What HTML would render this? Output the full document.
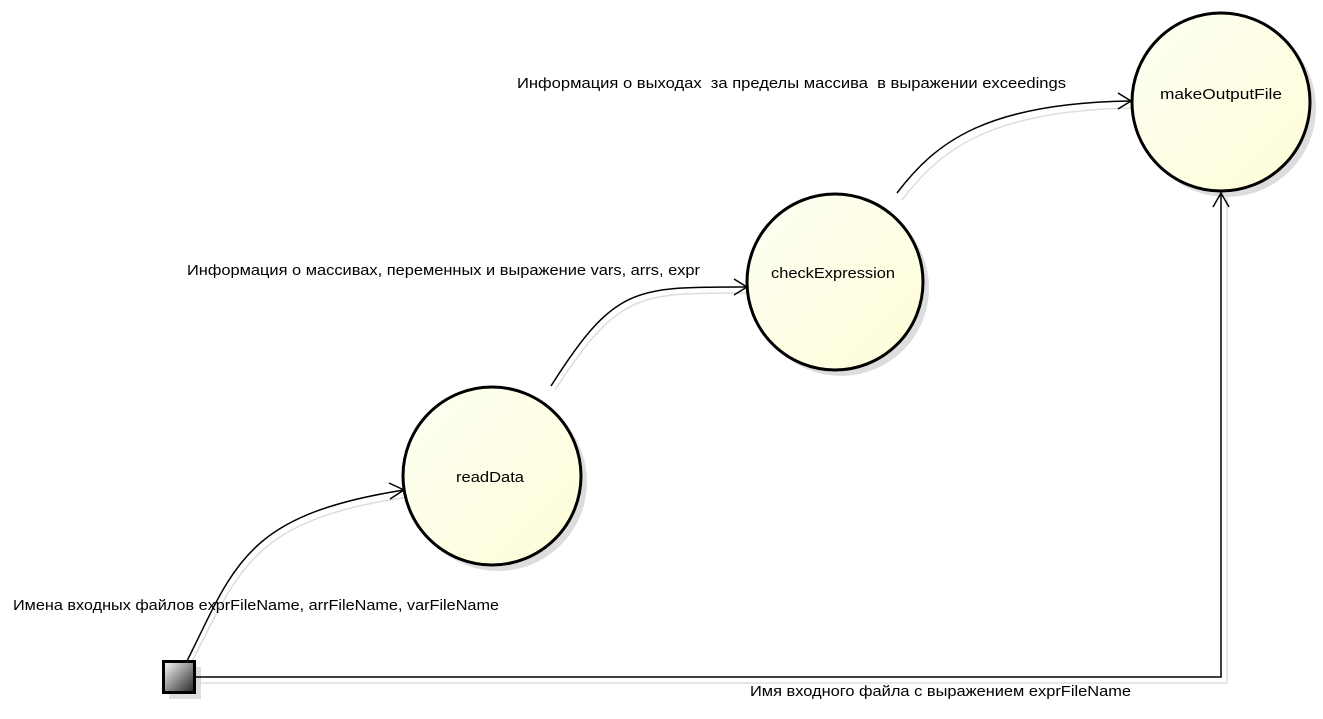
<!DOCTYPE html>
<html><head><meta charset="utf-8"><style>
body{margin:0;background:#fff;}
svg text{font-family:"Liberation Sans",sans-serif;font-size:15px;fill:#000;}
</style></head><body>
<svg width="1323" height="714" xmlns="http://www.w3.org/2000/svg">
<defs>
<linearGradient id="cf" x1="0" y1="0" x2="1" y2="1">
<stop offset="0" stop-color="#fffff4"/><stop offset="1" stop-color="#fdfdd8"/></linearGradient>
<linearGradient id="sq" x1="0" y1="0" x2="1" y2="1">
<stop offset="0" stop-color="#fff"/><stop offset="1" stop-color="#222"/></linearGradient>
</defs>
<circle cx="1227" cy="108" r="89" fill="#ddd"/>
<circle cx="841" cy="288" r="88" fill="#ddd"/>
<circle cx="498" cy="482" r="89" fill="#ddd"/>
<rect x="169" y="667" width="32" height="32" fill="#ddd"/>
<g fill="none" stroke="#ddd" stroke-width="1.5">
<path d="M191,663 C240,570 250,520 408,497"/>
<path d="M555,390 C620,290 640,293 750,293"/>
<path d="M902,200 C940,150 990,110 1134,108"/>
<path d="M197,683 L1227,683 L1227,196"/>
</g>
<g fill="none" stroke="#000" stroke-width="1.5">
<path d="M187,661 C235,565 245,515 404,490"/>
<path d="M551,386 C615,285 635,287 747,287"/>
<path d="M897,193 C935,143 985,103 1131,101"/>
<path d="M195,677 L1221,677 L1221,193"/>
<path d="M389,483 L404,490 L390,499"/>
<path d="M734,279 L747,287 L734,295"/>
<path d="M1118,93 L1131,101 L1118,109"/>
<path d="M1213,207 L1221,193 L1229,207"/>
</g>
<circle cx="1221" cy="102" r="89" fill="url(#cf)" stroke="#000" stroke-width="3"/>
<circle cx="835" cy="282" r="88" fill="url(#cf)" stroke="#000" stroke-width="3"/>
<circle cx="492" cy="476" r="89" fill="url(#cf)" stroke="#000" stroke-width="3"/>
<rect x="163.5" y="661.5" width="31" height="31" fill="url(#sq)" stroke="#000" stroke-width="3"/>
<text x="1160" y="99" textLength="122" lengthAdjust="spacingAndGlyphs">makeOutputFile</text>
<text x="771" y="278" textLength="124" lengthAdjust="spacingAndGlyphs">checkExpression</text>
<text x="456" y="482" textLength="68" lengthAdjust="spacingAndGlyphs">readData</text>
<text x="517" y="88" textLength="549" lengthAdjust="spacingAndGlyphs" xml:space="preserve">Информация о выходах  за пределы массива  в выражении exceedings</text>
<text x="187" y="275" textLength="513" lengthAdjust="spacingAndGlyphs">Информация о массивах, переменных и выражение vars, arrs, expr</text>
<text x="13" y="610" textLength="486" lengthAdjust="spacingAndGlyphs">Имена входных файлов exprFileName, arrFileName, varFileName</text>
<text x="750" y="696" textLength="381" lengthAdjust="spacingAndGlyphs">Имя входного файла с выражением exprFileName</text>
</svg>
</body></html>
